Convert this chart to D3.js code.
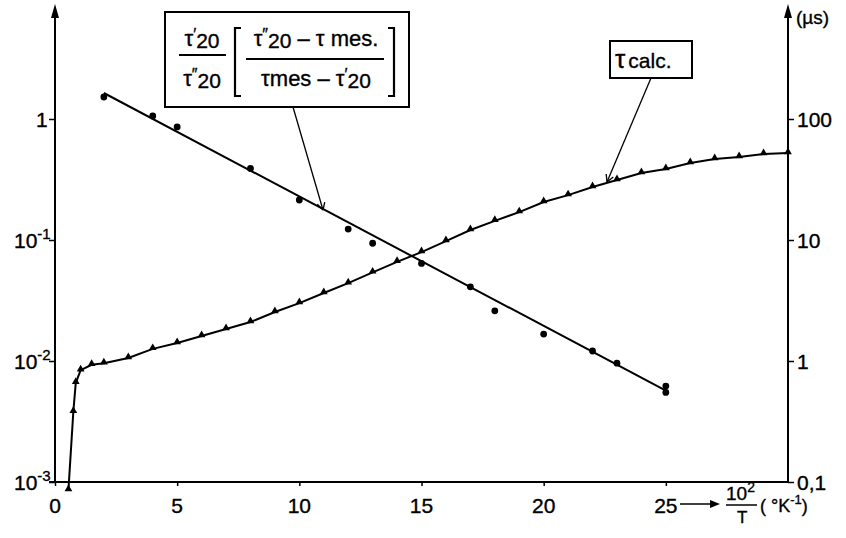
<!DOCTYPE html>
<html>
<head>
<meta charset="utf-8">
<script src="https://cdn.jsdelivr.net/npm/d3@7"></script>
<style>
  body { margin: 0; background: #fff; }
  text { font-family: "Liberation Sans", "DejaVu Sans", sans-serif; fill: #000; stroke: #000; stroke-width: 0.35px; }
</style>
</head>
<body>
<script>

// data

const xTicks = [0, 5, 10, 15, 20, 25];
const leftTicks = [1e-3, 1e-2, 1e-1, 1];
const leftLabels = ["10", "10", "10", "1"];
const leftExps = ["-3", "-2", "-1", ""];
const rightTicks = [0.1, 1, 10, 100];
const rightLabels = ["0,1", "1", "10", "100"];

// ratio tau'20/tau''20 [...] (left axis), measured points
const ratioX = [2, 4, 5, 8, 10, 12, 13, 15, 17, 18, 20, 22, 23, 25, 25];
const ratioY = [1.52, 1.06, 0.86, 0.39, 0.214, 0.123, 0.094, 0.064, 0.041, 0.026, 0.0167, 0.0121, 0.0096, 0.0062, 0.0055];
// fitted straight line (ends)
const fitX = [2, 25];
const fitY = [1.64, 0.0057];

// tau calc. (right axis, microseconds)
const calcX = [0.55, 0.75, 0.85, 1.05, 1.5, 2, 3, 4, 5, 6, 7, 8, 9, 10, 11, 12, 13, 14, 15,
               16, 17, 18, 19, 20, 21, 22, 23, 24, 25, 26, 27, 28, 29, 30];
const calcY = [0.086, 0.38, 0.66, 0.84, 0.93, 0.96, 1.06, 1.26, 1.41, 1.61, 1.84, 2.10, 2.54, 3.01,
               3.65, 4.4, 5.4, 6.6, 7.95, 9.8, 12.1, 14.4, 17.0, 20.6, 23.5, 27.4, 31.3, 35.8,
               38.6, 43.3, 46.7, 48.5, 51.4, 52.4];

const w = 846;
const h = 538;

const xScale = d3.scaleLinear().domain([0, 30]).range([55, 788]);
const yLeft = d3.scaleLog().domain([1e-3, 1]).range([482, 119]);
const yRight = d3.scaleLog().domain([0.1, 100]).range([482, 119]);

const svg = d3.select("body")
  .append("svg")
    .attr("width", w)
    .attr("height", h);

svg.append("rect")
    .attr("width", w)
    .attr("height", h)
    .attr("fill", "#fff");

// axes

const xAxis = d3.axisBottom(xScale)
    .tickValues(xTicks)
    .tickSize(4)
    .tickFormat("");

const gx = svg.append("g")
    .attr("transform", `translate(0, ${yLeft(1e-3)})`)
    .call(xAxis);
gx.select(".domain").remove();
gx.selectAll("line").attr("stroke-width", 1.5);

svg.append("line")
    .attr("x1", xScale(0) - 6).attr("x2", xScale(30))
    .attr("y1", yLeft(1e-3)).attr("y2", yLeft(1e-3))
    .attr("stroke", "#000").attr("stroke-width", 2);

svg.append("g").selectAll("text")
  .data(xTicks)
  .join("text")
    .attr("x", d => xScale(d))
    .attr("y", 513)
    .attr("text-anchor", "middle")
    .attr("font-size", 21)
    .text(d => d);

const gl = svg.append("g")
    .attr("transform", `translate(${xScale(0)}, 0)`)
    .call(d3.axisLeft(yLeft).tickValues(leftTicks).tickSize(6).tickFormat(""));
gl.select(".domain").remove();
gl.selectAll("line").attr("stroke-width", 1.5);

const gr = svg.append("g")
    .attr("transform", `translate(${xScale(30)}, 0)`)
    .call(d3.axisRight(yRight).tickValues(rightTicks).tickSize(6).tickFormat(""));
gr.select(".domain").remove();
gr.selectAll("line").attr("stroke-width", 1.5);

// vertical axis lines with arrows on top
[xScale(0), xScale(30)].forEach(x => {
  svg.append("line")
      .attr("x1", x).attr("x2", x)
      .attr("y1", yLeft(1e-3)).attr("y2", 14)
      .attr("stroke", "#000").attr("stroke-width", 2);
  svg.append("path")
      .attr("d", `M${x},4 L${x - 4},18 L${x + 4},18 Z`)
      .attr("fill", "#000");
});

const leftText = svg.append("g").selectAll("text")
  .data(leftTicks)
  .join("text")
    .attr("x", (d, i) => leftExps[i] ? 14 : 36)
    .attr("y", d => yLeft(d) + 8)
    .attr("font-size", 21);
leftText.append("tspan").text((d, i) => leftLabels[i]);
leftText.append("tspan")
    .attr("dy", -9)
    .attr("font-size", 15)
    .text((d, i) => leftExps[i]);

svg.append("g").selectAll("text")
  .data(rightTicks)
  .join("text")
    .attr("x", xScale(30) + 9)
    .attr("y", d => yRight(d) + 8)
    .attr("font-size", 21)
    .text((d, i) => rightLabels[i]);

svg.append("text")
    .attr("x", 796).attr("y", 24)
    .attr("font-size", 19)
    .text("(µs)");

// x axis label: arrow, 10^2 / T (°K-1)
svg.append("line")
    .attr("x1", 680).attr("x2", 712)
    .attr("y1", 504).attr("y2", 504)
    .attr("stroke", "#000").attr("stroke-width", 1.5);
svg.append("path")
    .attr("d", "M720,504 L710,500 L710,508 Z")
    .attr("fill", "#000");
const lab = svg.append("text")
    .attr("x", 726).attr("y", 500)
    .attr("font-size", 19);
lab.append("tspan").text("10");
lab.append("tspan").attr("dy", -8).attr("font-size", 14).text("2");
svg.append("line")
    .attr("x1", 726).attr("x2", 757)
    .attr("y1", 505).attr("y2", 505)
    .attr("stroke", "#000").attr("stroke-width", 1.5);
svg.append("text")
    .attr("x", 737).attr("y", 523)
    .attr("font-size", 17)
    .text("T");
const unit = svg.append("text")
    .attr("x", 760).attr("y", 512)
    .attr("font-size", 18);
unit.append("tspan").text("( °K");
unit.append("tspan").attr("dy", -8).attr("font-size", 13).text("-1");
unit.append("tspan").attr("dy", 8).text(")");

// data lines

const lineL = d3.line()
    .x(d => xScale(d[0]))
    .y(d => yLeft(d[1]));
const lineR = d3.line()
    .x(d => xScale(d[0]))
    .y(d => yRight(d[1]));

svg.append("path")
    .datum(fitX.map((x, i) => [x, fitY[i]]))
    .attr("d", lineL)
    .attr("fill", "none")
    .attr("stroke", "#000")
    .attr("stroke-width", 2);

svg.append("g").selectAll("circle")
  .data(ratioX.map((x, i) => [x, ratioY[i]]))
  .join("circle")
    .attr("cx", d => xScale(d[0]))
    .attr("cy", d => yLeft(d[1]))
    .attr("r", 3.4)
    .attr("fill", "#000");

const calcData = calcX.map((x, i) => [x, calcY[i]]);

svg.append("path")
    .datum(calcData)
    .attr("d", lineR)
    .attr("fill", "none")
    .attr("stroke", "#000")
    .attr("stroke-width", 2);

svg.append("g").selectAll("path")
  .data(calcData)
  .join("path")
    .attr("transform", d => `translate(${xScale(d[0])}, ${yRight(d[1]) - 1})`)
    .attr("d", d3.symbol(d3.symbolTriangle, 26))
    .attr("fill", "#000");

// label boxes with pointers

function pointer(x1, y1, x2, y2) {
  svg.append("line")
      .attr("x1", x1).attr("y1", y1)
      .attr("x2", x2).attr("y2", y2)
      .attr("stroke", "#000").attr("stroke-width", 1.3);
  const a = Math.atan2(y2 - y1, x2 - x1);
  const len = 8;
  [-0.5, 0.5].forEach(s => {
    svg.append("line")
        .attr("x1", x2).attr("y1", y2)
        .attr("x2", x2 - len * Math.cos(a + s)).attr("y2", y2 - len * Math.sin(a + s))
        .attr("stroke", "#000").attr("stroke-width", 1.3);
  });
}

// box 1: formula
svg.append("rect")
    .attr("x", 165).attr("y", 12)
    .attr("width", 244).attr("height", 95)
    .attr("fill", "#fff")
    .attr("stroke", "#000").attr("stroke-width", 2);
pointer(293, 107, 323, 210);

function tauText(x, y, parts, anchor) {
  const t = svg.append("text")
      .attr("x", x).attr("y", y)
      .attr("font-size", 22)
      .attr("text-anchor", anchor || "middle");
  parts.forEach(p => {
    const s = t.append("tspan").text(p.t);
    if (p.dy) s.attr("dy", p.dy);
    if (p.fs) s.attr("font-size", p.fs);
  });
  return t;
}

tauText(202, 46, [{t: "τ"}, {t: "′", dy: -6, fs: 16}, {t: "20", dy: 8, fs: 21}]);
svg.append("line").attr("x1", 179).attr("x2", 226).attr("y1", 55).attr("y2", 55)
    .attr("stroke", "#000").attr("stroke-width", 2);
tauText(202, 86, [{t: "τ"}, {t: "″", dy: -6, fs: 16}, {t: "20", dy: 8, fs: 21}]);

svg.append("path").attr("d", "M241,28 L235,28 L235,96 L241,96")
    .attr("fill", "none").attr("stroke", "#000").attr("stroke-width", 2.2);
svg.append("path").attr("d", "M388,28 L394,28 L394,96 L388,96")
    .attr("fill", "none").attr("stroke", "#000").attr("stroke-width", 2.2);

tauText(316, 46, [{t: "τ"}, {t: "″", dy: -6, fs: 16}, {t: "20", dy: 8, fs: 21},
                  {t: " – τ mes.", dy: -2}]);
svg.append("line").attr("x1", 246).attr("x2", 384).attr("y1", 59).attr("y2", 59)
    .attr("stroke", "#000").attr("stroke-width", 2);
tauText(316, 86, [{t: "τmes – τ"}, {t: "′", dy: -6, fs: 16}, {t: "20", dy: 8, fs: 21}]);

// box 2: tau calc.
svg.append("rect")
    .attr("x", 610).attr("y", 41)
    .attr("width", 82).attr("height", 37)
    .attr("fill", "#fff")
    .attr("stroke", "#000").attr("stroke-width", 2);
pointer(651, 78, 607, 182);
const tc = svg.append("text")
    .attr("x", 615).attr("y", 68)
    .attr("font-size", 21);
tc.append("tspan").attr("font-size", 26).text("τ");
tc.append("tspan").attr("dx", 3).text("calc.");

</script>
</body>
</html>
